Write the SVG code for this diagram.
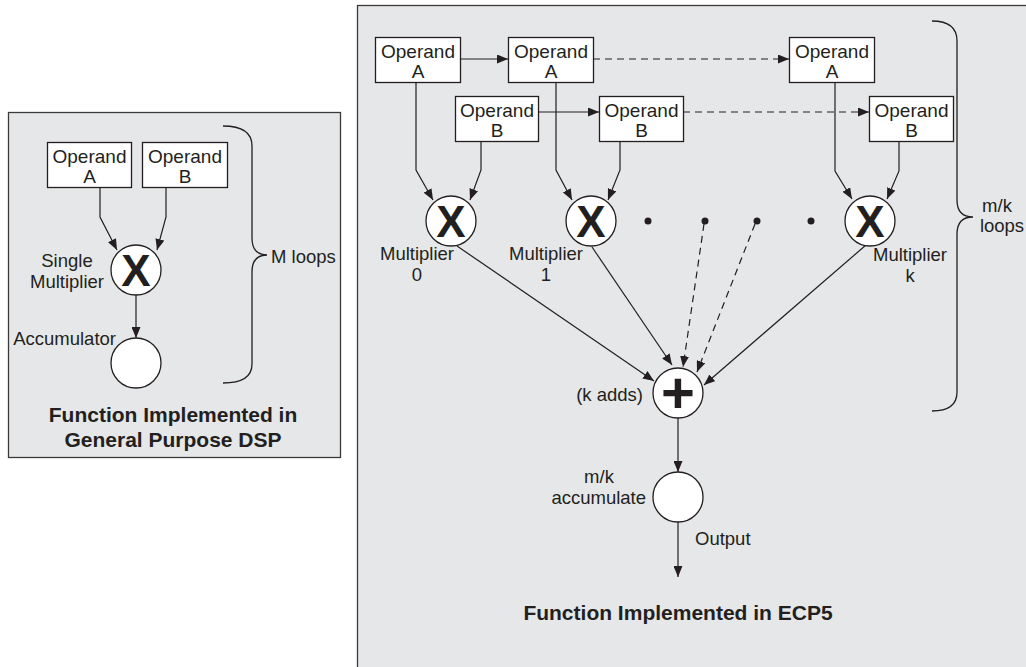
<svg xmlns="http://www.w3.org/2000/svg" width="1026" height="667" viewBox="0 0 1026 667">
<defs>
<marker id="arr" markerUnits="userSpaceOnUse" markerWidth="11" markerHeight="9" refX="11" refY="4.5" orient="auto">
<path d="M0,0 L11,4.5 L0,9 z" fill="#231f20"/>
</marker>
<style>
.panel{fill:#e6e7e8;stroke:#3a3a3a;stroke-width:1.3}
.box{fill:#fff;stroke:#231f20;stroke-width:1.3}
.node{fill:#fff;stroke:#231f20;stroke-width:1.3}
.t{font-family:"Liberation Sans",Arial,sans-serif;font-size:18.5px;fill:#231f20}
.op{font-size:19px}
.c{text-anchor:middle}
.e{text-anchor:end}
.title{font-family:"Liberation Sans",Arial,sans-serif;font-size:21px;font-weight:bold;fill:#231f20;text-anchor:middle}
.sym{font-family:"Liberation Sans",Arial,sans-serif;font-weight:bold;fill:#231f20;text-anchor:middle}
.ln{fill:none;stroke:#231f20;stroke-width:1.2;marker-end:url(#arr)}
.dash{stroke-dasharray:7,5}
.brace{fill:none;stroke:#231f20;stroke-width:1.3}
</style>
</defs>

<rect class="panel" x="8.5" y="112.5" width="332" height="345"/>
<rect class="panel" x="357.5" y="5.5" width="700" height="700"/>

<g id="connectors">
<polyline class="ln" points="100,187 100,217 117,250"/>
<polyline class="ln" points="166,187 166,217 157,250"/>
<line class="ln" x1="136" y1="295" x2="136" y2="338"/>

<line class="ln" x1="460" y1="59" x2="508" y2="59"/>
<line class="ln" x1="538" y1="112" x2="599" y2="112"/>
<line class="ln dash" x1="593" y1="59" x2="789" y2="59"/>
<line class="ln dash" x1="683" y1="112" x2="869" y2="112"/>

<polyline class="ln" points="416,82 416,170 433,200"/>
<polyline class="ln" points="481,141 481,170 470,200"/>
<polyline class="ln" points="556,82 556,170 572,200"/>
<polyline class="ln" points="620,141 620,170 608,200"/>
<polyline class="ln" points="835,82 835,171 852,199"/>
<polyline class="ln" points="899,141 899,171 887,199"/>

<line class="ln" x1="457" y1="246" x2="654" y2="381"/>
<line class="ln" x1="592" y1="247" x2="672" y2="365"/>
<line class="ln dash" x1="704" y1="224" x2="683" y2="367"/>
<line class="ln dash" x1="755" y1="224" x2="697" y2="372"/>
<line class="ln" x1="866" y1="245" x2="704" y2="385"/>

<line class="ln" x1="678" y1="418" x2="678" y2="472"/>
<line class="ln" x1="678" y1="522" x2="678" y2="577"/>
</g>

<g id="dsp-operand-a">
<rect class="box" x="47.5" y="142.5" width="84" height="45"/>
<text class="t op c" x="89.5" y="163">Operand</text>
<text class="t op c" x="89.5" y="183">A</text>
</g>
<g id="dsp-operand-b">
<rect class="box" x="142.5" y="142.5" width="85" height="45"/>
<text class="t op c" x="185" y="163">Operand</text>
<text class="t op c" x="185" y="183">B</text>
</g>
<g id="dsp-multiplier">
<circle class="node" cx="136" cy="270" r="25"/>
<text class="sym" x="136" y="286" font-size="44">X</text>
<text class="t c" x="67" y="267">Single</text>
<text class="t c" x="67" y="288">Multiplier</text>
</g>
<g id="dsp-accumulator">
<circle class="node" cx="136" cy="363" r="25"/>
<text class="t e" x="116" y="345">Accumulator</text>
</g>
<g id="dsp-brace">
<path class="brace" d="M223,126 Q252,126 252,146 L252,238 Q252,255 267,255 Q252,255 252,272 L252,364 Q252,383 223,383"/>
<text class="t" x="271" y="263">M loops</text>
</g>
<text class="title" x="173" y="422">Function Implemented in</text>
<text class="title" x="173" y="447">General Purpose DSP</text>

<g id="ecp-operand-a0">
<rect class="box" x="375.5" y="37.5" width="85" height="45"/>
<text class="t op c" x="418" y="58">Operand</text>
<text class="t op c" x="418" y="78">A</text>
</g>
<g id="ecp-operand-a1">
<rect class="box" x="508.5" y="37.5" width="85" height="45"/>
<text class="t op c" x="551" y="58">Operand</text>
<text class="t op c" x="551" y="78">A</text>
</g>
<g id="ecp-operand-ak">
<rect class="box" x="789.5" y="37.5" width="85" height="45"/>
<text class="t op c" x="832" y="58">Operand</text>
<text class="t op c" x="832" y="78">A</text>
</g>
<g id="ecp-operand-b0">
<rect class="box" x="455.5" y="96.5" width="83" height="45"/>
<text class="t op c" x="497" y="117">Operand</text>
<text class="t op c" x="497" y="137">B</text>
</g>
<g id="ecp-operand-b1">
<rect class="box" x="599.5" y="96.5" width="84" height="45"/>
<text class="t op c" x="641.5" y="117">Operand</text>
<text class="t op c" x="641.5" y="137">B</text>
</g>
<g id="ecp-operand-bk">
<rect class="box" x="869.5" y="96.5" width="84" height="45"/>
<text class="t op c" x="911.5" y="117">Operand</text>
<text class="t op c" x="911.5" y="137">B</text>
</g>

<g id="ecp-mult0">
<circle class="node" cx="451" cy="221" r="25"/>
<text class="sym" x="451" y="237" font-size="44">X</text>
<text class="t c" x="417" y="260">Multiplier</text>
<text class="t c" x="417" y="281">0</text>
</g>
<g id="ecp-mult1">
<circle class="node" cx="591" cy="221" r="25"/>
<text class="sym" x="591" y="237" font-size="44">X</text>
<text class="t c" x="546" y="260">Multiplier</text>
<text class="t c" x="546" y="281">1</text>
</g>
<g id="ecp-multk">
<circle class="node" cx="870" cy="221" r="25"/>
<text class="sym" x="870" y="237" font-size="44">X</text>
<text class="t c" x="910" y="261">Multiplier</text>
<text class="t c" x="910" y="282">k</text>
</g>
<g id="ecp-dots" fill="#231f20">
<circle cx="648" cy="221" r="3.5"/>
<circle cx="705" cy="221" r="3.5"/>
<circle cx="757" cy="221" r="3.5"/>
<circle cx="811" cy="221" r="3.5"/>
</g>
<g id="ecp-adder">
<circle class="node" cx="678" cy="393" r="25"/>
<text class="sym" x="678" y="413" font-size="58">+</text>
<text class="t e" x="643" y="401">(k adds)</text>
</g>
<g id="ecp-accumulate">
<circle class="node" cx="678" cy="497" r="25"/>
<text class="t c" x="599" y="483">m/k</text>
<text class="t e" x="646" y="504">accumulate</text>
</g>
<text class="t" x="695" y="545">Output</text>
<g id="ecp-brace">
<path class="brace" d="M932,21 Q957,21 957,41 L957,200 Q957,217 973,217 Q957,217 957,234 L957,392 Q957,411 932,411"/>
<text class="t c" x="997" y="212">m/k</text>
<text class="t c" x="1002" y="232">loops</text>
</g>
<text class="title" x="678" y="620">Function Implemented in ECP5</text>
</svg>
